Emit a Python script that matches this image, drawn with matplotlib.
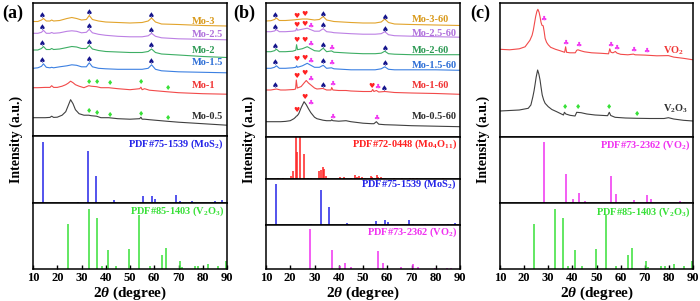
import matplotlib.pyplot as plt

plt.rcParams['font.family'] = ['Liberation Serif', 'DejaVu Sans']
plt.rcParams['font.weight'] = 'bold'
plt.rcParams['mathtext.fontset'] = 'custom'
plt.rcParams['mathtext.rm'] = 'Liberation Serif:bold'
plt.rcParams['mathtext.it'] = 'Liberation Serif:italic:bold'
plt.rcParams['mathtext.bf'] = 'Liberation Serif:bold'

TICKS = [10, 20, 30, 40, 50, 60, 70, 80, 90]

# ---- standard patterns (2theta, relative intensity) ----
mos2_pos = [14.1, 28.4, 32.8, 35.9, 43.4, 44.0, 55.5, 58.9, 60.5, 69.0, 70.7, 75.5, 85.0, 87.8]
mos2_int = [100, 1.5, 85, 44, 4.5, 2, 11, 11.5, 7, 13.5, 3.3, 3.3, 2.5, 5]
v2o3_pos = [24.3, 33.0, 36.2, 38.3, 41.1, 44.1, 49.7, 53.8, 58.2, 63.0, 64.8, 70.6, 71.3, 76.8,
            78.2, 79.6, 82.0, 86.1, 89.6]
v2o3_int = [76, 100, 86, 5.5, 32, 5.5, 33, 90, 5.5, 24, 35, 13, 3.3, 5.5, 5, 1.7, 9, 5.5, 13]
vo2_pos = [28.2, 37.4, 40.4, 42.7, 45.2, 56.0, 58.1, 65.5, 70.8, 72.6, 79.8, 84.6, 86.4]
vo2_int = [100, 47, 6.5, 16, 4, 44, 14, 4.5, 13, 6, 1.7, 2.8, 1.7]
mo4o11_pos = [15.0, 17.1, 20.2, 21.3, 22.4, 22.8, 23.9, 25.7, 27.4, 28.4, 32.0, 32.5, 33.4, 33.9,
              34.6, 35.4, 40.5, 42.3, 44.9, 46.7, 47.6, 48.5, 49.5, 50.8, 53.2, 53.8, 55.6, 56.3,
              57.3, 58.4, 59.1, 62.9, 66.0, 69.4, 70.5, 72.1, 83.0]
mo4o11_int = [2.5, 2.5, 7, 18, 120, 64, 120, 60, 3.5, 3.5, 18, 21, 29, 24, 7, 2.5, 5, 5, 2.5, 9.5,
              5, 7, 5, 3.5, 7, 5, 10.5, 5, 5, 3.5, 3.5, 2.5, 2.5, 2.5, 2.5, 2.5, 1.2]

# ---- panel (a) measured patterns ----
a_x1 = [10, 12, 13.5, 14.3, 15.5, 17, 17.7, 18.5, 21, 24, 26, 28, 30, 32, 33.2, 34.5, 37, 40, 45,
        50, 55, 57.5, 58.9, 60.5, 63, 70, 80, 90]
a_mo3 = [0, 0, 1.5, 3, 0.5, 0.5, 1.5, 0.5, 1, 3, 4, 3, 1.5, 2, 6, 2, 0.5, -0.5, -1, -1.5, -1, 0.5,
         3.5, -0.5, -2.5, -3, -4, -4.5]
a_mo25 = [0, 0, 1, 3, 0, 0, 0.8, 0, 0.5, 2, 2.5, 2, 0.5, 1, 4, 0.5, -1, -2, -3, -3.5, -3.5, -2.5,
          0, -3, -4.5, -5.5, -6, -6.5]
a_mo2 = [0, 0, 1.5, 3.5, 0.5, 0.5, 1.5, 0.5, 1, 2.5, 3.5, 3, 1.5, 1.5, 4.5, 1, -0.5, -1.5, -2,
         -2.5, -2.5, -1.5, 1, -2.5, -4, -5, -6.5, -7.5]
a_mo15 = [0, 0.5, 2, 4.5, 1, 0.5, 1, 0.5, 1.5, 2.5, 3.5, 3, 1.5, 1.5, 5.5, 1.5, 0, -0.5, -1, -1,
          -1, 0, 3.5, -1, -2.5, -3.5, -4, -4.5]
a_x2 = [10, 12, 15, 17, 17.7, 18.5, 20, 22, 23.5, 24.5, 25.5, 26.5, 27.5, 29, 31, 33, 34, 36.2, 38,
        41.2, 45, 50, 54, 54.5, 55, 56, 58, 65, 70, 80, 90]
a_mo1 = [0, 0, 0.3, 0.3, 2, 0.3, 0.3, 1.5, 3, 4.5, 6.5, 5, 3, 1.5, 0, 2, 1.5, 1, 0, 0, -1, -2, -1,
         0.5, -2, -1, -2.5, -4, -5, -6, -6.5]
a_mo05 = [0, 0, 0, 0.3, 1.5, 0.3, 0.5, 2.5, 6, 12, 18, 14, 8, 4, 2.5, 2.5, 2, 1.5, 0, 0, -1, -1.5,
          -1, 0.5, -1.5, -1.5, -2, -3.5, -4.5, -6, -7.5]
a_labels = ['Mo-3', 'Mo-2.5', 'Mo-2', 'Mo-1.5', 'Mo-1', 'Mo-0.5']
a_offsets = [114.5, 102.7, 86, 67.7, 48.3, 18.3]
a_label_y = [114, 101.7, 85.3, 73.3, 50, 20]
a_spade_x = [14.0, 33.2, 58.9, 14.0, 33.2, 58.9, 14.0, 33.2, 58.9, 14.0, 33.2, 58.9]
a_spade_y = [120.5, 123.5, 121, 108.7, 109.7, 105.7, 92.5, 93.5, 90, 75.2, 76.2, 74.2]
a_diam_x = [33.0, 36.4, 41.7, 54.5, 65.8, 33.0, 36.4, 41.7, 54.5, 65.8]
a_diam_y = [54.3, 54.3, 53.3, 53.7, 47.7, 25, 23.3, 21, 22, 17.7]

# ---- panel (b) measured patterns ----
b_x1 = [10, 12, 13.5, 14.3, 15.5, 18, 21, 22.3, 22.6, 23, 25, 27, 28.5, 30, 32, 33.6, 35, 37, 38,
        45, 50, 55, 57.5, 59, 60.5, 63, 70, 80, 90]
b_mo3 = [0, 0.3, 1.5, 3, 0.5, 0.5, 1, 1.3, 1.5, 1.5, 2, 2, 1.5, 1, 1.5, 4.5, 1, 0, -0.5, -1.5, -2,
         -2, -1, 2, -1.5, -3, -3.5, -4, -4.5]
b_mo25 = [0, 0, 0.7, 2, 0, 0, 0.5, 1, 3.5, 1.5, 2.5, 3.5, 2, 0.5, 0.5, 3, 0, -0.5, -1, -2, -2.5,
          -2.5, -2, 0, -3, -4, -4.5, -5, -5.5]
b_mo2 = [0, 0, 1, 2.5, 0, 0, 0.5, 1.5, 7, 2, 3, 5, 3, 1, 0.5, 3.5, 0, 0.8, -0.5, -1.5, -2, -2,
         -1.5, 0.5, -2, -2.5, -3, -3, -3]
b_mo15 = [0, 0, 1, 2.5, 0, 0, 0.5, 1, 2.5, 1, 2.5, 5, 3, 1, 1, 3, 0, 0.5, -0.5, -1.5, -1.5, -1.5,
          -0.5, 1.5, -1, -1.5, -1.5, -1.5, -2]
b_x2 = [10, 12, 14.3, 16, 18, 20, 21.5, 22.2, 22.5, 22.9, 23.5, 24.5, 25.7, 26.6, 27.5, 28.5, 30,
        31, 33.5, 35, 36.8, 37.1, 37.6, 40, 43, 45, 50, 53.5, 54, 54.5, 55.5, 56.5, 59, 63, 70, 80, 90]
b_mo1 = [0, 0, 1, 0, 0, 0.3, 0.5, 1, 10, 2, 2.5, 3.5, 7, 9.5, 7, 5, 2, 1, 1.5, 0, 0, 2.5, 0, -0.5,
         -0.5, -1, -1.5, -1.5, 0.5, -1.5, -0.5, -2, -1.5, -2.5, -3, -3.5, -4.3]
b_mo05 = [0, 0, 0, 0, 0.3, 1, 3, 4.5, 5.5, 6, 8, 14, 20, 17, 13, 9, 4.5, 3, 1.5, 1, 1, 2, 1, 0.5,
          1, 0, -1.5, -2, -2, -2, 0, -2.5, -3, -3.3, -4, -4.5, -5]
b_labels = ['Mo-3-60', 'Mo-2.5-60', 'Mo-2-60', 'Mo-1.5-60', 'Mo-1-60', 'Mo-0.5-60']
b_offsets = [116, 105.3, 85.3, 68.7, 47, 15.3]
b_label_y = [118, 103.7, 86.3, 72, 51, 20.3]
b_spade_x = [14.0, 33.5, 59.0, 14.0, 33.5, 59.0, 14.0, 33.5, 59.0, 14.0, 33.5, 59.0, 14.0, 33.5, 58.9]
b_spade_y = [122, 122.5, 120, 109.5, 111, 108, 90.5, 91.5, 88.5, 74.7, 75.3, 73.7, 51, 51, 48.7]
b_heart_x = [22.6, 26.0, 22.6, 25.8, 22.6, 25.8, 22.4, 25.8, 22.5, 26.0, 53.3, 22.5, 25.8]
b_heart_y = [121.3, 123, 112, 113, 97, 96.5, 78, 79, 61.3, 63.7, 51.5, 27, 40.3]
b_club_x = [28.4, 28.3, 37.0, 28.3, 37.0, 28.4, 37.2, 56.0, 28.3, 37.2, 55.5]
b_club_y = [110.5, 93.2, 89, 75.5, 73.7, 58, 53, 50.3, 33.7, 20.3, 19.3]

# ---- panel (c) measured patterns ----
c_vo2_x = [10, 14, 18, 20.4, 22.4, 23.3, 23.8, 24.3, 24.8, 25.3, 25.7, 26.2, 26.6, 27.0, 27.4,
           27.9, 28.3, 28.7, 29.3, 30, 31, 33, 35, 36.8, 37.2, 37.6, 39, 41.2, 41.8, 42.3, 43.5,
           45, 48, 52, 55, 55.5, 56, 56.8, 57.8, 58.5, 60, 63, 65.3, 66, 70, 75, 79.8, 82, 86, 90]
c_vo2 = [0, -0.5, 0.5, 2.5, 9, 14, 19, 26, 33, 38, 40, 37, 32.5, 27, 24, 23.5, 18, 11, 7, 4.5, 2,
         0, -1.5, -3, 2.5, -3, -3.5, -3.5, -1, -0.5, -1.5, -2.5, -3.5, -4, -4.5, 0.5, -3, -3.5,
         -2.2, -3.8, -5, -5.5, -4.8, -5.5, -5.8, -6.5, -6.3, -7.8, -9, -10.5]
c_v2o3_x = [10, 14, 18, 21.7, 22.8, 23.6, 24.1, 24.5, 25.0, 25.6, 26.1, 26.6, 27.0, 27.5, 28.1,
            28.7, 30, 31.5, 33.5, 36.3, 36.7, 37.3, 39, 41.1, 41.8, 43.6, 46, 49.4, 54.6, 55.3,
            55.9, 57.7, 62, 66.7, 72, 78, 79.8, 82, 86, 90]
c_v2o3 = [0, 0.5, 1, 2.7, 6, 14, 20, 26, 34, 41, 37, 31, 24, 16, 11, 7.7, 4.3, 1.5, -0.7, -4, -1.3,
          -3, -4.3, -5, -1.3, -1.7, -3, -4, -4.7, -1.3, -4.5, -6.3, -7, -7.3, -7.5, -7.5, -6.7,
          -8, -9.3, -10]
c_labels = ['VO$_2$', 'V$_2$O$_3$']
c_offsets = [87.7, 26]
c_label_y = [86, 28.7]
c_club_x = [28.0, 37.0, 42.5, 55.7, 58.3, 65.3, 70.8]
c_club_y = [117.7, 93.7, 91.5, 92, 88.5, 86.5, 85.5]
c_diam_x = [36.9, 42.2, 55.3, 66.7]
c_diam_y = [29.7, 30.3, 29.7, 23]

# colours
line_cols = ['#E2A42C', '#BC80E4', '#3DAE64', '#3C80E2', '#F24A4A', '#404040']
text_cols = ['#D99A1C', '#B071DC', '#2E9A55', '#2E6FD6', '#F03434', '#303030']
C_MOS2 = '#2424E8'
C_V2O3 = '#38E038'
C_VO2 = '#F032F0'
C_MO4O11 = '#FF2222'
C_SPADE = '#14148C'

fig = plt.figure(figsize=(7, 3.01), dpi=100)


def make_axes(left, right, rows):
    axs = []
    for top, bottom in zip(rows[:-1], rows[1:]):
        ax = fig.add_axes([left / 700, 1 - bottom / 301, (right - left) / 700, (bottom - top) / 301])
        ax.set_xlim(10, 90)
        ax.set_yticks([])
        ax.set_xticks(TICKS)
        ax.tick_params(axis='x', length=0, labelbottom=False)
        for sp in ax.spines.values():
            sp.set_linewidth(1.1)
        axs.append(ax)
    last = axs[-1]
    last.tick_params(axis='x', direction='in', length=3, width=1, labelbottom=True,
                     labelsize=9, pad=2.5)
    for lab in last.get_xticklabels():
        lab.set_fontweight('bold')
    last.set_xlabel(r'$\mathit{2\theta}$ (degree)', fontsize=11, fontweight='bold', labelpad=0)
    return axs


def sticks(ax, pos, inten, col, ymax, label, dy):
    ax.vlines(pos, 0, inten, color=col, lw=1.1)
    ax.set_ylim(0, ymax)
    h = ax.get_position().height * 301
    ax.text(0.985, 1 - dy / h, label, transform=ax.transAxes, ha='right', va='center',
            color=col, fontsize=7.5, fontweight='bold')


def symbols(ax, xs, ys, sym, col, size):
    for x, y in zip(xs, ys):
        ax.text(x, y, sym, ha='center', va='center', color=col, fontsize=size,
                family='DejaVu Sans')


def curves(ax, xs_list, ys_list, offsets, labels, label_y, label_x, cols, tcols):
    for xs, ys, off, lab, ly, lc, tc in zip(xs_list, ys_list, offsets, labels, label_y, cols, tcols):
        ax.plot(xs, [v + off for v in ys], color=lc, lw=0.8)
        ax.text(label_x, ly, lab, color=tc, fontsize=7.5, fontweight='bold', ha='left', va='center')


# ---- (a) ----
ax_a = make_axes(33, 227, [3, 136, 203, 269])
ax_a[0].set_ylim(0, 133)
curves(ax_a[0], [a_x1, a_x1, a_x1, a_x1, a_x2, a_x2], [a_mo3, a_mo25, a_mo2, a_mo15, a_mo1, a_mo05],
       a_offsets, a_labels, a_label_y, 75.5, line_cols, text_cols)
symbols(ax_a[0], a_spade_x, a_spade_y, '\u2660', C_SPADE, 5.5)
symbols(ax_a[0], a_diam_x, a_diam_y, '\u2666', C_V2O3, 5)
sticks(ax_a[1], mos2_pos, mos2_int, C_MOS2, 109, 'PDF#75-1539 (MoS$_2$)', 8)
sticks(ax_a[2], v2o3_pos, v2o3_int, C_V2O3, 110.6, 'PDF#85-1403 (V$_2$O$_3$)', 8)

# ---- (b) ----
ax_b = make_axes(266, 460, [3, 137, 179, 225, 269])
ax_b[0].set_ylim(0, 134)
curves(ax_b[0], [b_x1, b_x1, b_x1, b_x1, b_x2, b_x2], [b_mo3, b_mo25, b_mo2, b_mo15, b_mo1, b_mo05],
       b_offsets, b_labels, b_label_y, 70.1, line_cols, text_cols)
symbols(ax_b[0], b_spade_x, b_spade_y, '\u2660', C_SPADE, 5.5)
symbols(ax_b[0], b_heart_x, b_heart_y, '\u2665', C_MO4O11, 5)
symbols(ax_b[0], b_club_x, b_club_y, '\u2663', C_VO2, 5)
sticks(ax_b[1], mo4o11_pos, mo4o11_int, C_MO4O11, 100, 'PDF#72-0448 (Mo$_4$O$_{11}$)', 7)
sticks(ax_b[2], mos2_pos, mos2_int, C_MOS2, 113, 'PDF#75-1539 (MoS$_2$)', 5.5)
sticks(ax_b[3], vo2_pos, vo2_int, C_VO2, 110, 'PDF#73-2362 (VO$_2$)', 7)

# ---- (c) ----
ax_c = make_axes(500, 693, [3, 137, 203, 269])
ax_c[0].set_ylim(0, 134)
curves(ax_c[0], [c_vo2_x, c_v2o3_x], [c_vo2, c_v2o3], c_offsets, c_labels, c_label_y, 77.6,
       [line_cols[4], line_cols[5]], [text_cols[4], text_cols[5]])
symbols(ax_c[0], c_club_x, c_club_y, '\u2663', C_VO2, 5)
symbols(ax_c[0], c_diam_x, c_diam_y, '\u2666', C_V2O3, 5)
sticks(ax_c[1], vo2_pos, vo2_int, C_VO2, 107.7, 'PDF#73-2362 (VO$_2$)', 8.5)
sticks(ax_c[2], v2o3_pos, v2o3_int, C_V2O3, 110.6, 'PDF#85-1403 (V$_2$O$_3$)', 9.5)

# panel letters and y labels
for px, letter in zip([13, 244, 480], ['(a)', '(b)', '(c)']):
    fig.text(px / 700, 1 - 13 / 301, letter, fontsize=13, fontweight='bold', ha='center', va='center')
for px in [16, 249, 483]:
    fig.text(px / 700, 1 - 139 / 301, 'Intensity (a.u.)', rotation=90, fontsize=10,
             fontweight='bold', ha='center', va='center')

fig.savefig('out.png', dpi=100)
